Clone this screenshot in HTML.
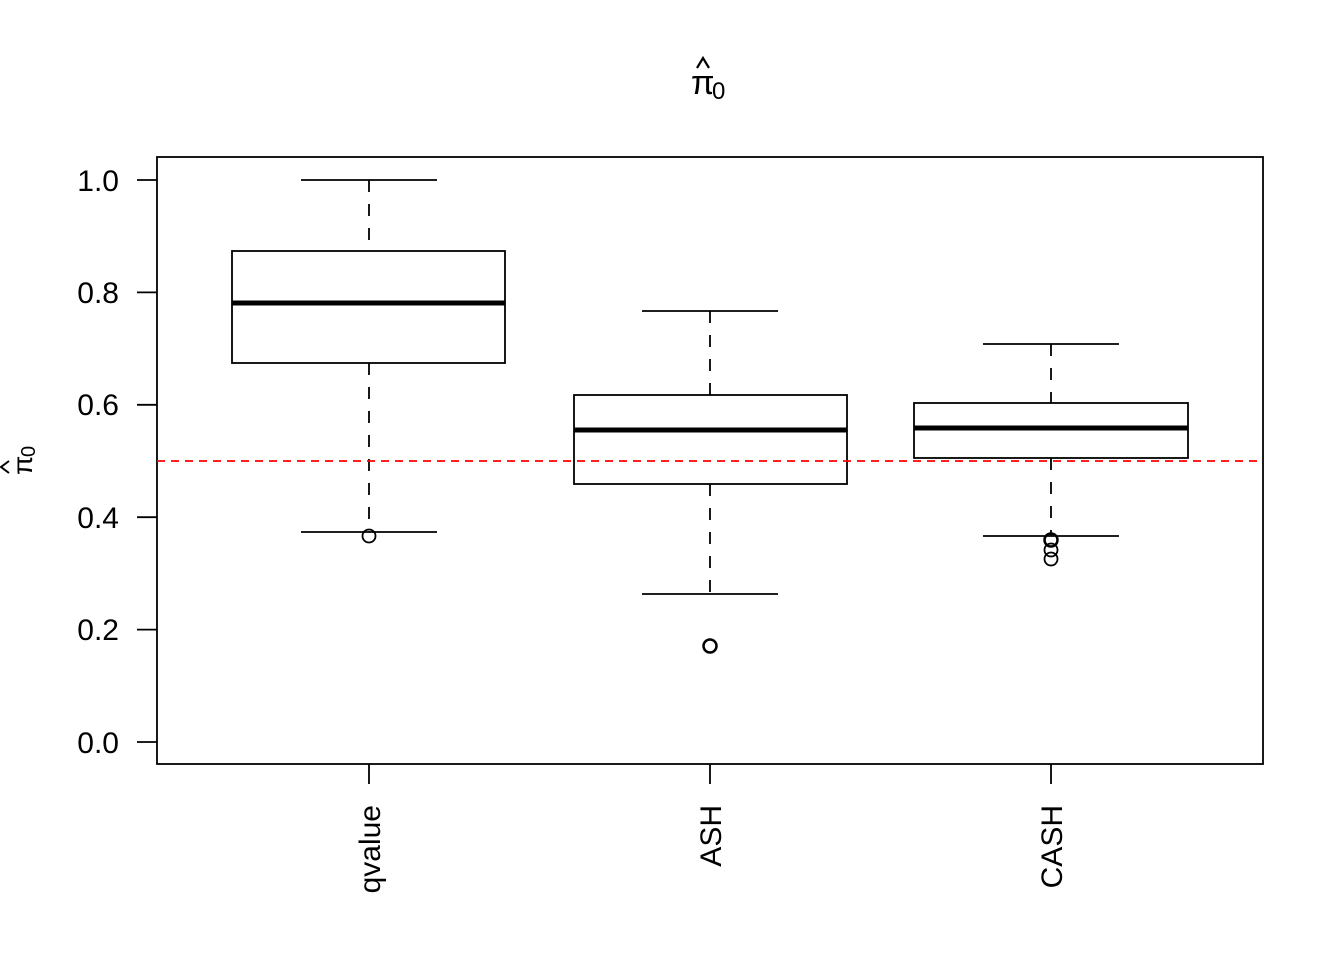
<!DOCTYPE html>
<html><head><meta charset="utf-8"><style>html,body{margin:0;padding:0;background:#fff}svg{display:block}</style></head>
<body>
<svg width="1344" height="960" viewBox="0 0 1344 960" xmlns="http://www.w3.org/2000/svg" font-family="Liberation Sans, Arial, sans-serif">
<rect width="1344" height="960" fill="#fff"/>
<polyline points="697,68 703,58 709,68" fill="none" stroke="#000" stroke-width="2.2"/>
<text x="691" y="94" font-size="34">π</text>
<text x="712" y="99" font-size="24">0</text>
<g transform="translate(32,458) rotate(-90)">
<polyline points="-15,-23 -9,-31 -3,-23" fill="none" stroke="#000" stroke-width="2"/>
<text x="-17" y="0" font-size="28">π</text>
<text x="1" y="3" font-size="20">0</text>
</g>
<rect x="157" y="157" width="1106" height="607" fill="none" stroke="#000" stroke-width="1.8"/>
<g stroke="#000" stroke-width="1.8">
<line x1="137" y1="180" x2="157" y2="180"/><line x1="137" y1="292.4" x2="157" y2="292.4"/>
<line x1="137" y1="404.8" x2="157" y2="404.8"/><line x1="137" y1="517.2" x2="157" y2="517.2"/>
<line x1="137" y1="629.6" x2="157" y2="629.6"/><line x1="137" y1="742" x2="157" y2="742"/>
<line x1="369" y1="764" x2="369" y2="784"/><line x1="710" y1="764" x2="710" y2="784"/><line x1="1051" y1="764" x2="1051" y2="784"/>
</g>
<g font-size="30" text-anchor="end">
<text x="119" y="191">1.0</text><text x="119" y="303">0.8</text><text x="119" y="415">0.6</text>
<text x="119" y="528">0.4</text><text x="119" y="640">0.2</text><text x="119" y="753">0.0</text>
</g>
<g font-size="30" text-anchor="end">
<text transform="translate(380,805) rotate(-90)">qvalue</text>
<text transform="translate(721,805) rotate(-90)">ASH</text>
<text transform="translate(1062,805) rotate(-90)">CASH</text>
</g>
<g stroke="#000" stroke-width="1.8" fill="none">
<line x1="369" y1="180" x2="369" y2="251" stroke-dasharray="12,12"/>
<line x1="369" y1="363" x2="369" y2="532" stroke-dasharray="12,12"/>
<line x1="301" y1="180" x2="437" y2="180"/><line x1="301" y1="532" x2="437" y2="532"/>
<rect x="232" y="251" width="273" height="112" fill="#fff"/>
<line x1="232" y1="303" x2="505" y2="303" stroke-width="5"/>
<circle cx="369" cy="536" r="6.5"/>
<line x1="710" y1="311" x2="710" y2="395" stroke-dasharray="12,12"/>
<line x1="710" y1="484" x2="710" y2="594" stroke-dasharray="12,12"/>
<line x1="642" y1="311" x2="778" y2="311"/><line x1="642" y1="594" x2="778" y2="594"/>
<rect x="574" y="395" width="273" height="89" fill="#fff"/>
<line x1="574" y1="430" x2="847" y2="430" stroke-width="5"/>
<circle cx="710" cy="646" r="6.5" stroke-width="2.5"/>
<line x1="1051" y1="344" x2="1051" y2="403" stroke-dasharray="12,12"/>
<line x1="1051" y1="458" x2="1051" y2="536" stroke-dasharray="12,12"/>
<line x1="983" y1="344" x2="1119" y2="344"/><line x1="983" y1="536" x2="1119" y2="536"/>
<rect x="914" y="403" width="274" height="55" fill="#fff"/>
<line x1="914" y1="428" x2="1188" y2="428" stroke-width="5"/>
<circle cx="1051" cy="540" r="6.5" stroke-width="2.5"/><circle cx="1051" cy="550" r="6.5"/><circle cx="1051" cy="559" r="6.5"/>
</g>
<line x1="157" y1="461" x2="1263" y2="461" stroke="#f00" stroke-width="1.8" stroke-dasharray="8,6"/>
</svg>
</body></html>
